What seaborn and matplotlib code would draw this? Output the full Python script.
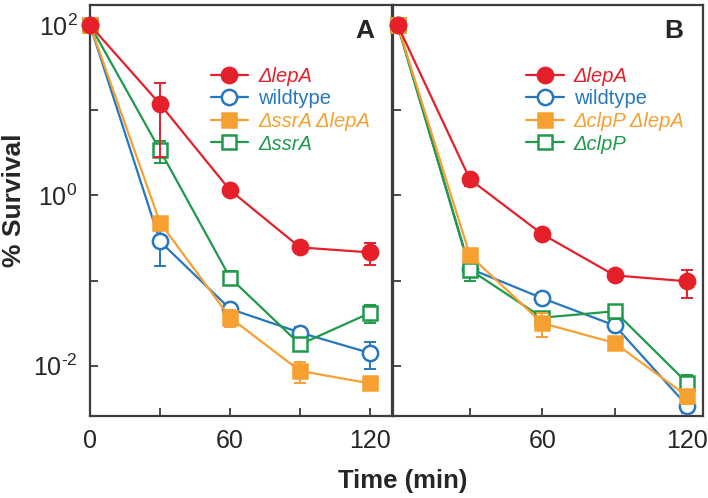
import numpy as np
import pandas as pd
import matplotlib
matplotlib.use("Agg")
import matplotlib.pyplot as plt
from matplotlib.ticker import FixedLocator, FixedFormatter
import seaborn as sns

# time points (min)
time_min = [0, 30, 60, 90, 120]

# panel A: % survival and error (sd)
a_lepA = [100, 11.8, 1.15, 0.245, 0.214]
a_lepA_sd = [0, 9.0, 0.15, 0.03, 0.06]
a_wt = [100, 0.288, 0.0465, 0.0245, 0.0141]
a_wt_sd = [0, 0.14, 0.004, 0.004, 0.005]
a_ssrA_lepA = [100, 0.48, 0.0367, 0.0087, 0.0062]
a_ssrA_lepA_sd = [0, 0.05, 0.008, 0.0025, 0.0005]
a_ssrA = [100, 3.39, 0.108, 0.0178, 0.0417]
a_ssrA_sd = [0, 1.0, 0.02, 0.003, 0.01]

# panel B
b_lepA = [100, 1.54, 0.35, 0.115, 0.098]
b_lepA_sd = [0, 0.25, 0.04, 0.01, 0.035]
b_wt = [100, 0.138, 0.062, 0.0297, 0.0034]
b_wt_sd = [0, 0.02, 0.008, 0.004, 0.0006]
b_clpP_lepA = [100, 0.197, 0.0316, 0.0185, 0.0044]
b_clpP_lepA_sd = [0, 0.02, 0.01, 0.001, 0.0008]
b_clpP = [100, 0.134, 0.0367, 0.0436, 0.0063]
b_clpP_sd = [0, 0.035, 0.003, 0.008, 0.0015]

labels_a = ["ΔlepA", "wildtype", "ΔssrA ΔlepA", "ΔssrA"]
labels_b = ["ΔlepA", "wildtype", "ΔclpP ΔlepA", "ΔclpP"]

red = "#E5202B"
blue = "#2578BE"
orange = "#F6A031"
green = "#1E9A4A"

sns.set_style("ticks")
plt.rcParams['font.family'] = ['Liberation Sans', 'DejaVu Sans']
plt.rcParams['mathtext.fontset'] = 'custom'
plt.rcParams['mathtext.rm'] = 'Liberation Sans'

fig = plt.figure(figsize=(7.08, 4.98), dpi=100)
axA = fig.add_axes([90/708, 1-416/498, 302/708, 411/498])
axB = fig.add_axes([393/708, 1-416/498, 310/708, 411/498], sharey=axA)

# (values, sd, color, marker, filled, zorder)
def draw_panel(ax, series, labels):
    handles = {}
    for (vals, sd, col, mk, filled, z), lab in zip(series, labels):
        df = pd.DataFrame({"time": time_min, "survival": vals})
        ax.errorbar(df["time"], df["survival"], yerr=sd, fmt="none", ecolor=col,
                    elinewidth=1.4, capsize=4, capthick=1.4, zorder=z, clip_on=False)
        sns.lineplot(data=df, x="time", y="survival", ax=ax, color=col, marker=mk,
                     markersize=11 if mk == "o" else 10,
                     markerfacecolor=col if filled else "white",
                     markeredgecolor=col, markeredgewidth=1.8,
                     linewidth=1.6, zorder=z, clip_on=False, errorbar=None,
                     label=lab, legend=False)
        handles[lab] = ax.lines[-1]
    return [handles[l] for l in labels]

series_a = [
    (a_lepA, a_lepA_sd, red, "o", True, 6),
    (a_wt, a_wt_sd, blue, "o", False, 3),
    (a_ssrA_lepA, a_ssrA_lepA_sd, orange, "s", True, 5),
    (a_ssrA, a_ssrA_sd, green, "s", False, 4),
]
series_b = [
    (b_lepA, b_lepA_sd, red, "o", True, 6),
    (b_wt, b_wt_sd, blue, "o", False, 3),
    (b_clpP_lepA, b_clpP_lepA_sd, orange, "s", True, 5),
    (b_clpP, b_clpP_sd, green, "s", False, 4),
]

hA = draw_panel(axA, series_a, labels_a)
hB = draw_panel(axB, series_b, labels_b)

axA.set_yscale("log")
axA.set_ylim(10**-2.59, 10**2.235)
axA.set_xlim(0, 129.4)
axB.set_xlim(-1.9, 126.6)

yt = [1e-2, 1e-1, 1e0, 1e1, 1e2]
ylab = ["$10^{\u2010 2}$", "", r"$10^{0}$", "", r"$10^{2}$"]
axA.yaxis.set_major_locator(FixedLocator(yt))
axA.yaxis.set_major_formatter(FixedFormatter(ylab))
axA.yaxis.set_minor_locator(FixedLocator([]))

axA.xaxis.set_major_locator(FixedLocator([0, 30, 60, 90, 120]))
axA.xaxis.set_major_formatter(FixedFormatter(["0", "", "60", "", "120"]))
axB.xaxis.set_major_locator(FixedLocator([30, 60, 90, 120]))
axB.xaxis.set_major_formatter(FixedFormatter(["", "60", "", "120"]))

for ax in (axA, axB):
    ax.set_xlabel("")
    ax.set_ylabel("")
    for s in ax.spines.values():
        s.set_color("#3c3c3c")
        s.set_linewidth(1.6)
        s.set_visible(True)
    ax.tick_params(direction="in", length=6, width=1.3, color="#3c3c3c",
                   labelsize=18, pad=9)
    ax.tick_params(axis="y", pad=9)
    ax.tick_params(which="minor", length=0)
axB.tick_params(axis="y", labelleft=False)

for ax, h, labs, lx in ((axA, hA, labels_a, 0.40), (axB, hB, labels_b, 0.43)):
    leg = ax.legend(h, labs, loc="upper left", bbox_to_anchor=(lx, 0.85),
                    frameon=False, fontsize=14.5, handlelength=1.85,
                    handletextpad=0.5, labelspacing=0.18, borderpad=0,
                    borderaxespad=0)
    for txt, line in zip(leg.get_texts(), h):
        txt.set_color(line.get_color())
        if txt.get_text().startswith("Δ"):
            txt.set_fontstyle("italic")

axA.text(0.94, 0.965, "A", transform=axA.transAxes, ha="right", va="top",
         fontsize=19, fontweight="bold")
axB.text(0.935, 0.965, "B", transform=axB.transAxes, ha="right", va="top",
         fontsize=19, fontweight="bold")

fig.text(14/708, 1-200/498, "% Survival", rotation=90, ha="center", va="center",
         fontsize=19, fontweight="bold")
fig.text(403/708, 1-481/498, "Time (min)", ha="center", va="center",
         fontsize=18.5, fontweight="bold")

fig.savefig("out.png", dpi=100)
